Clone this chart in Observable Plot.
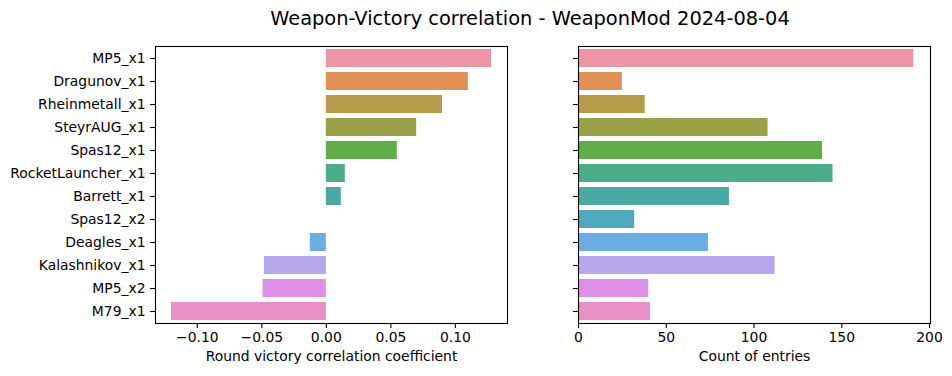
<!DOCTYPE html>
<html>
<head>
<meta charset="utf-8">
<script src="https://cdn.jsdelivr.net/npm/d3@7"></script>
<script src="https://cdn.jsdelivr.net/npm/@observablehq/plot@0.6"></script>
<style>
  html, body { margin: 0; padding: 0; background: #fff; }
  #wrap { position: relative; width: 952px; height: 376px; font-family: "DejaVu Sans", sans-serif; }
  #title { position: absolute; left: 0; width: 1060px; top: 7px; text-align: center; font-size: 19.4px; color: #000; white-space: nowrap; }
  #left { position: absolute; left: 0; top: 36px; }
  #right { position: absolute; left: 520px; top: 36px; }
</style>
</head>
<body>
<div id="wrap">
  <div id="title">Weapon-Victory correlation - WeaponMod 2024-08-04</div>
  <div id="left"></div>
  <div id="right"></div>
</div>
<script>
const categories = ["MP5_x1", "Dragunov_x1", "Rheinmetall_x1", "SteyrAUG_x1", "Spas12_x1", "RocketLauncher_x1", "Barrett_x1", "Spas12_x2", "Deagles_x1", "Kalashnikov_x1", "MP5_x2", "M79_x1"];
const correlation = [0.128, 0.110, 0.090, 0.070, 0.055, 0.0147, 0.0116, 0.0, -0.0124, -0.048, -0.049, -0.120];
const counts = [191, 25, 38, 108, 139, 145, 86, 32, 74, 112, 40, 41];
const colors = ["#eb96a2", "#e19153", "#b89b49", "#9aa247", "#60ae47", "#4aae8a", "#4aaaa2", "#4ea9bd", "#6aade2", "#b5a7eb", "#e08fe6", "#e890c5"];
const corrTicks = [-0.10, -0.05, 0.00, 0.05, 0.10];
const countTicks = [0, 50, 100, 150, 200];
const corrLabel = "Round victory correlation coefficient";
const countLabel = "Count of entries";

const corrData = categories.map((name, i) => ({name, value: correlation[i]}));
const countData = categories.map((name, i) => ({name, value: counts[i]}));

const common = {
  height: 337,
  marginTop: 10,
  marginBottom: 50,
  style: {fontFamily: "DejaVu Sans, sans-serif", fontSize: "13.9px", color: "#000", background: "#fff", overflow: "visible"},
  y: {domain: categories, paddingInner: 0.2, paddingOuter: 0.1, label: null},
  color: {domain: categories, range: colors}
};

const left = Plot.plot({
  ...common,
  width: 520,
  marginLeft: 155,
  marginRight: 13,
  x: {domain: [-0.1324, 0.1404], label: null},
  marks: [
    Plot.barX(corrData, {y: "name", x1: 0, x2: "value", fill: "name"}),
    Plot.frame({stroke: "#000", strokeWidth: 1.1}),
    Plot.axisX({ticks: corrTicks, tickFormat: d3.format(".2f"), tickSize: 5, tickPadding: 4, label: null, strokeWidth: 1.1}),
    Plot.axisY({tickSize: 5, tickPadding: 5, label: null, strokeWidth: 1.1}),
    Plot.text([corrLabel], {text: d => d, frameAnchor: "bottom", dy: 37, fontSize: 13.9, fill: "#000"})
  ]
});

const right = Plot.plot({
  ...common,
  width: 432,
  marginLeft: 58,
  marginRight: 22,
  x: {domain: [0, 200.55], label: null},
  marks: [
    Plot.barX(countData, {y: "name", x1: 0, x2: "value", fill: "name"}),
    Plot.frame({stroke: "#000", strokeWidth: 1.1}),
    Plot.axisX({ticks: countTicks, tickFormat: d3.format("d"), tickSize: 5, tickPadding: 4, label: null, strokeWidth: 1.1}),
    Plot.axisY({tickSize: 5, tickFormat: () => "", label: null, strokeWidth: 1.1}),
    Plot.text([countLabel], {text: d => d, frameAnchor: "bottom", dy: 37, fontSize: 13.9, fill: "#000"})
  ]
});

document.getElementById("left").appendChild(left);
document.getElementById("right").appendChild(right);
</script>
</body>
</html>
